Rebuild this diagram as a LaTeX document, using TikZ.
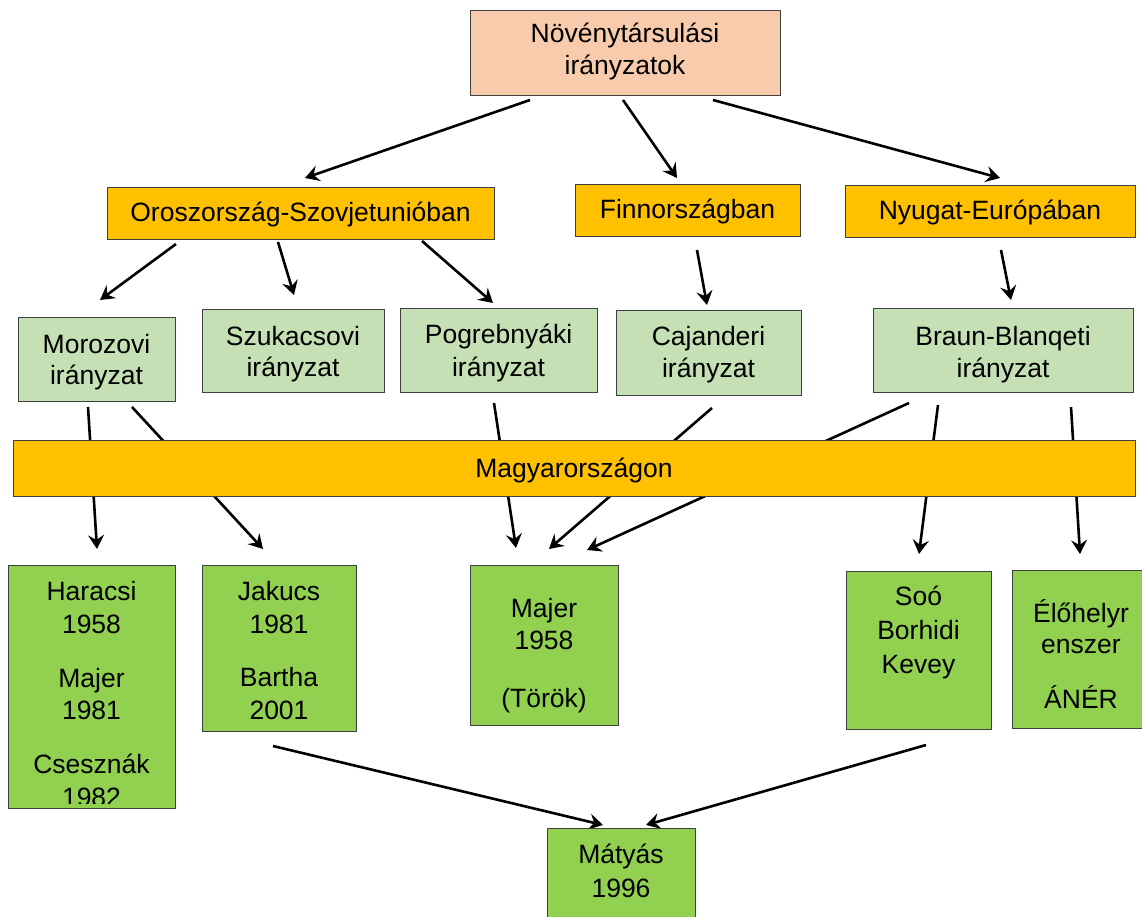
\documentclass[tikz,border=0pt]{standalone}
\usepackage{fontspec}
\setmainfont{Liberation Sans}
\usetikzlibrary{arrows.meta}
\definecolor{peach}{HTML}{F8CBAD}
\definecolor{gold}{HTML}{FFC000}
\definecolor{lgreen}{HTML}{C5E0B4}
\definecolor{dgreen}{HTML}{92D050}
\begin{document}
\begin{tikzpicture}[x=1pt,y=-1pt,
  box/.style={draw=black!75, line width=1pt, inner sep=0, anchor=north west},
  txt/.style={inner sep=0, anchor=base, font=\fontsize{26.5}{31}\selectfont},
  conn/.style={line width=2.6pt, -{Stealth[length=14pt,width=16pt,inset=5pt]}}]
\useasboundingbox (0,0) rectangle (1142,917);
% connector end points
\coordinate (a1s) at (530,100);  \coordinate (a1e) at (305,178);
\coordinate (a2s) at (623,100);  \coordinate (a2e) at (677,178);
\coordinate (a3s) at (713,100);  \coordinate (a3e) at (1000,178);
\coordinate (a4s) at (176,244);  \coordinate (a4e) at (100,300);
\coordinate (a5s) at (278,242);  \coordinate (a5e) at (294,295);
\coordinate (a6s) at (422,241);  \coordinate (a6e) at (493,303);
\coordinate (a7s) at (697,250);  \coordinate (a7e) at (707,305);
\coordinate (a8s) at (1001,250); \coordinate (a8e) at (1011,300);
\coordinate (a9s) at (88,407);   \coordinate (a9e) at (97,549);
\coordinate (a10s) at (132,407); \coordinate (a10e) at (263,549);
\coordinate (a11s) at (494,403); \coordinate (a11e) at (516,548);
\coordinate (a12s) at (712,408); \coordinate (a12e) at (549,549);
\coordinate (a13s) at (909,403); \coordinate (a13e) at (587,550);
\coordinate (a14s) at (938,405); \coordinate (a14e) at (919,554);
\coordinate (a15s) at (1071,407);\coordinate (a15e) at (1080,554);
\coordinate (a16s) at (273,746); \coordinate (a16e) at (603,825);
\coordinate (a17s) at (926,745); \coordinate (a17e) at (646,825);
% connectors (drawn first so that the boxes cover them)
\foreach \i in {1,...,17} \draw[conn] (a\i s) -- (a\i e);
% boxes
\node[box, fill=peach, minimum width=310, minimum height=85] (top) at (470,10) {};
\node[box, fill=gold, minimum width=387, minimum height=52] (oros) at (107,187) {};
\node[box, fill=gold, minimum width=225, minimum height=52] (finn) at (575,184) {};
\node[box, fill=gold, minimum width=290, minimum height=52] (nyug) at (845,185) {};
\node[box, fill=lgreen, minimum width=157, minimum height=84] (moro) at (18,317) {};
\node[box, fill=lgreen, minimum width=182, minimum height=83] (szuk) at (202,309) {};
\node[box, fill=lgreen, minimum width=197, minimum height=84] (pogr) at (400,308) {};
\node[box, fill=lgreen, minimum width=185, minimum height=85] (caja) at (616,310) {};
\node[box, fill=lgreen, minimum width=260, minimum height=84] (brau) at (873,308) {};
\node[box, fill=gold, minimum width=1122, minimum height=56] (magy) at (13,440) {};
\node[box, fill=dgreen, minimum width=167, minimum height=243] (hara) at (8,565) {};
\node[box, fill=dgreen, minimum width=154, minimum height=166] (jaku) at (202,565) {};
\node[box, fill=dgreen, minimum width=148, minimum height=160] (majr) at (470,565) {};
\node[box, fill=dgreen, minimum width=145, minimum height=158] (soo) at (846,571) {};
\node[box, fill=dgreen, minimum width=138, minimum height=158] (eloh) at (1012,570) {};
\node[box, fill=dgreen, minimum width=148, minimum height=100] (maty) at (547,828) {};
% texts
\node[txt] (t1) at (625,43) {Növénytársulási};
\node[txt] (t2) at (625,75) {irányzatok};
\node[txt] (t3) at (300.5,222) {Oroszország-Szovjetunióban};
\node[txt] (t4) at (687.5,219) {Finnországban};
\node[txt] (t5) at (990,220) {Nyugat-Európában};
\node[txt] (t6) at (96.5,353) {Morozovi};
\node[txt] (t7) at (96.5,384) {irányzat};
\node[txt] (t8) at (293,345) {Szukacsovi};
\node[txt] (t9) at (293,376) {irányzat};
\node[txt] (t10) at (498.5,343) {Pogrebnyáki};
\node[txt] (t11) at (498.5,376) {irányzat};
\node[txt] (t12) at (708.5,345) {Cajanderi};
\node[txt] (t13) at (708.5,377) {irányzat};
\node[txt] (t14) at (1003,345) {Braun-Blanqeti};
\node[txt] (t15) at (1003,377) {irányzat};
\node[txt] (t16) at (574,477) {Magyarországon};
\node[txt] (t17) at (91.5,600) {Haracsi};
\node[txt] (t18) at (91.5,633) {1958};
\node[txt] (t19) at (91.5,687) {Majer};
\node[txt] (t20) at (91.5,719) {1981};
\node[txt] (t21) at (91.5,773) {Csesznák};
\begin{scope}
  \clip (8,565) rectangle (175,803);
  \node[txt] (t22) at (91.5,806) {1982};
\end{scope}
\node[txt] (t23) at (279,600) {Jakucs};
\node[txt] (t24) at (279,633) {1981};
\node[txt] (t25) at (279,686) {Bartha};
\node[txt] (t26) at (279,719) {2001};
\node[txt] (t27) at (544,617) {Majer};
\node[txt] (t28) at (544,649) {1958};
\node[txt] (t29) at (544,707) {(Török)};
\node[txt] (t30) at (918.5,605) {Soó};
\node[txt] (t31) at (918.5,639) {Borhidi};
\node[txt] (t32) at (918.5,673) {Kevey};
\node[txt] (t33) at (1081,622) {Élőhelyr};
\node[txt] (t34) at (1081,653) {enszer};
\node[txt] (t35) at (1081,708) {ÁNÉR};
\node[txt] (t36) at (621,863) {Mátyás};
\node[txt] (t37) at (621,897) {1996};
\end{tikzpicture}
\end{document}
